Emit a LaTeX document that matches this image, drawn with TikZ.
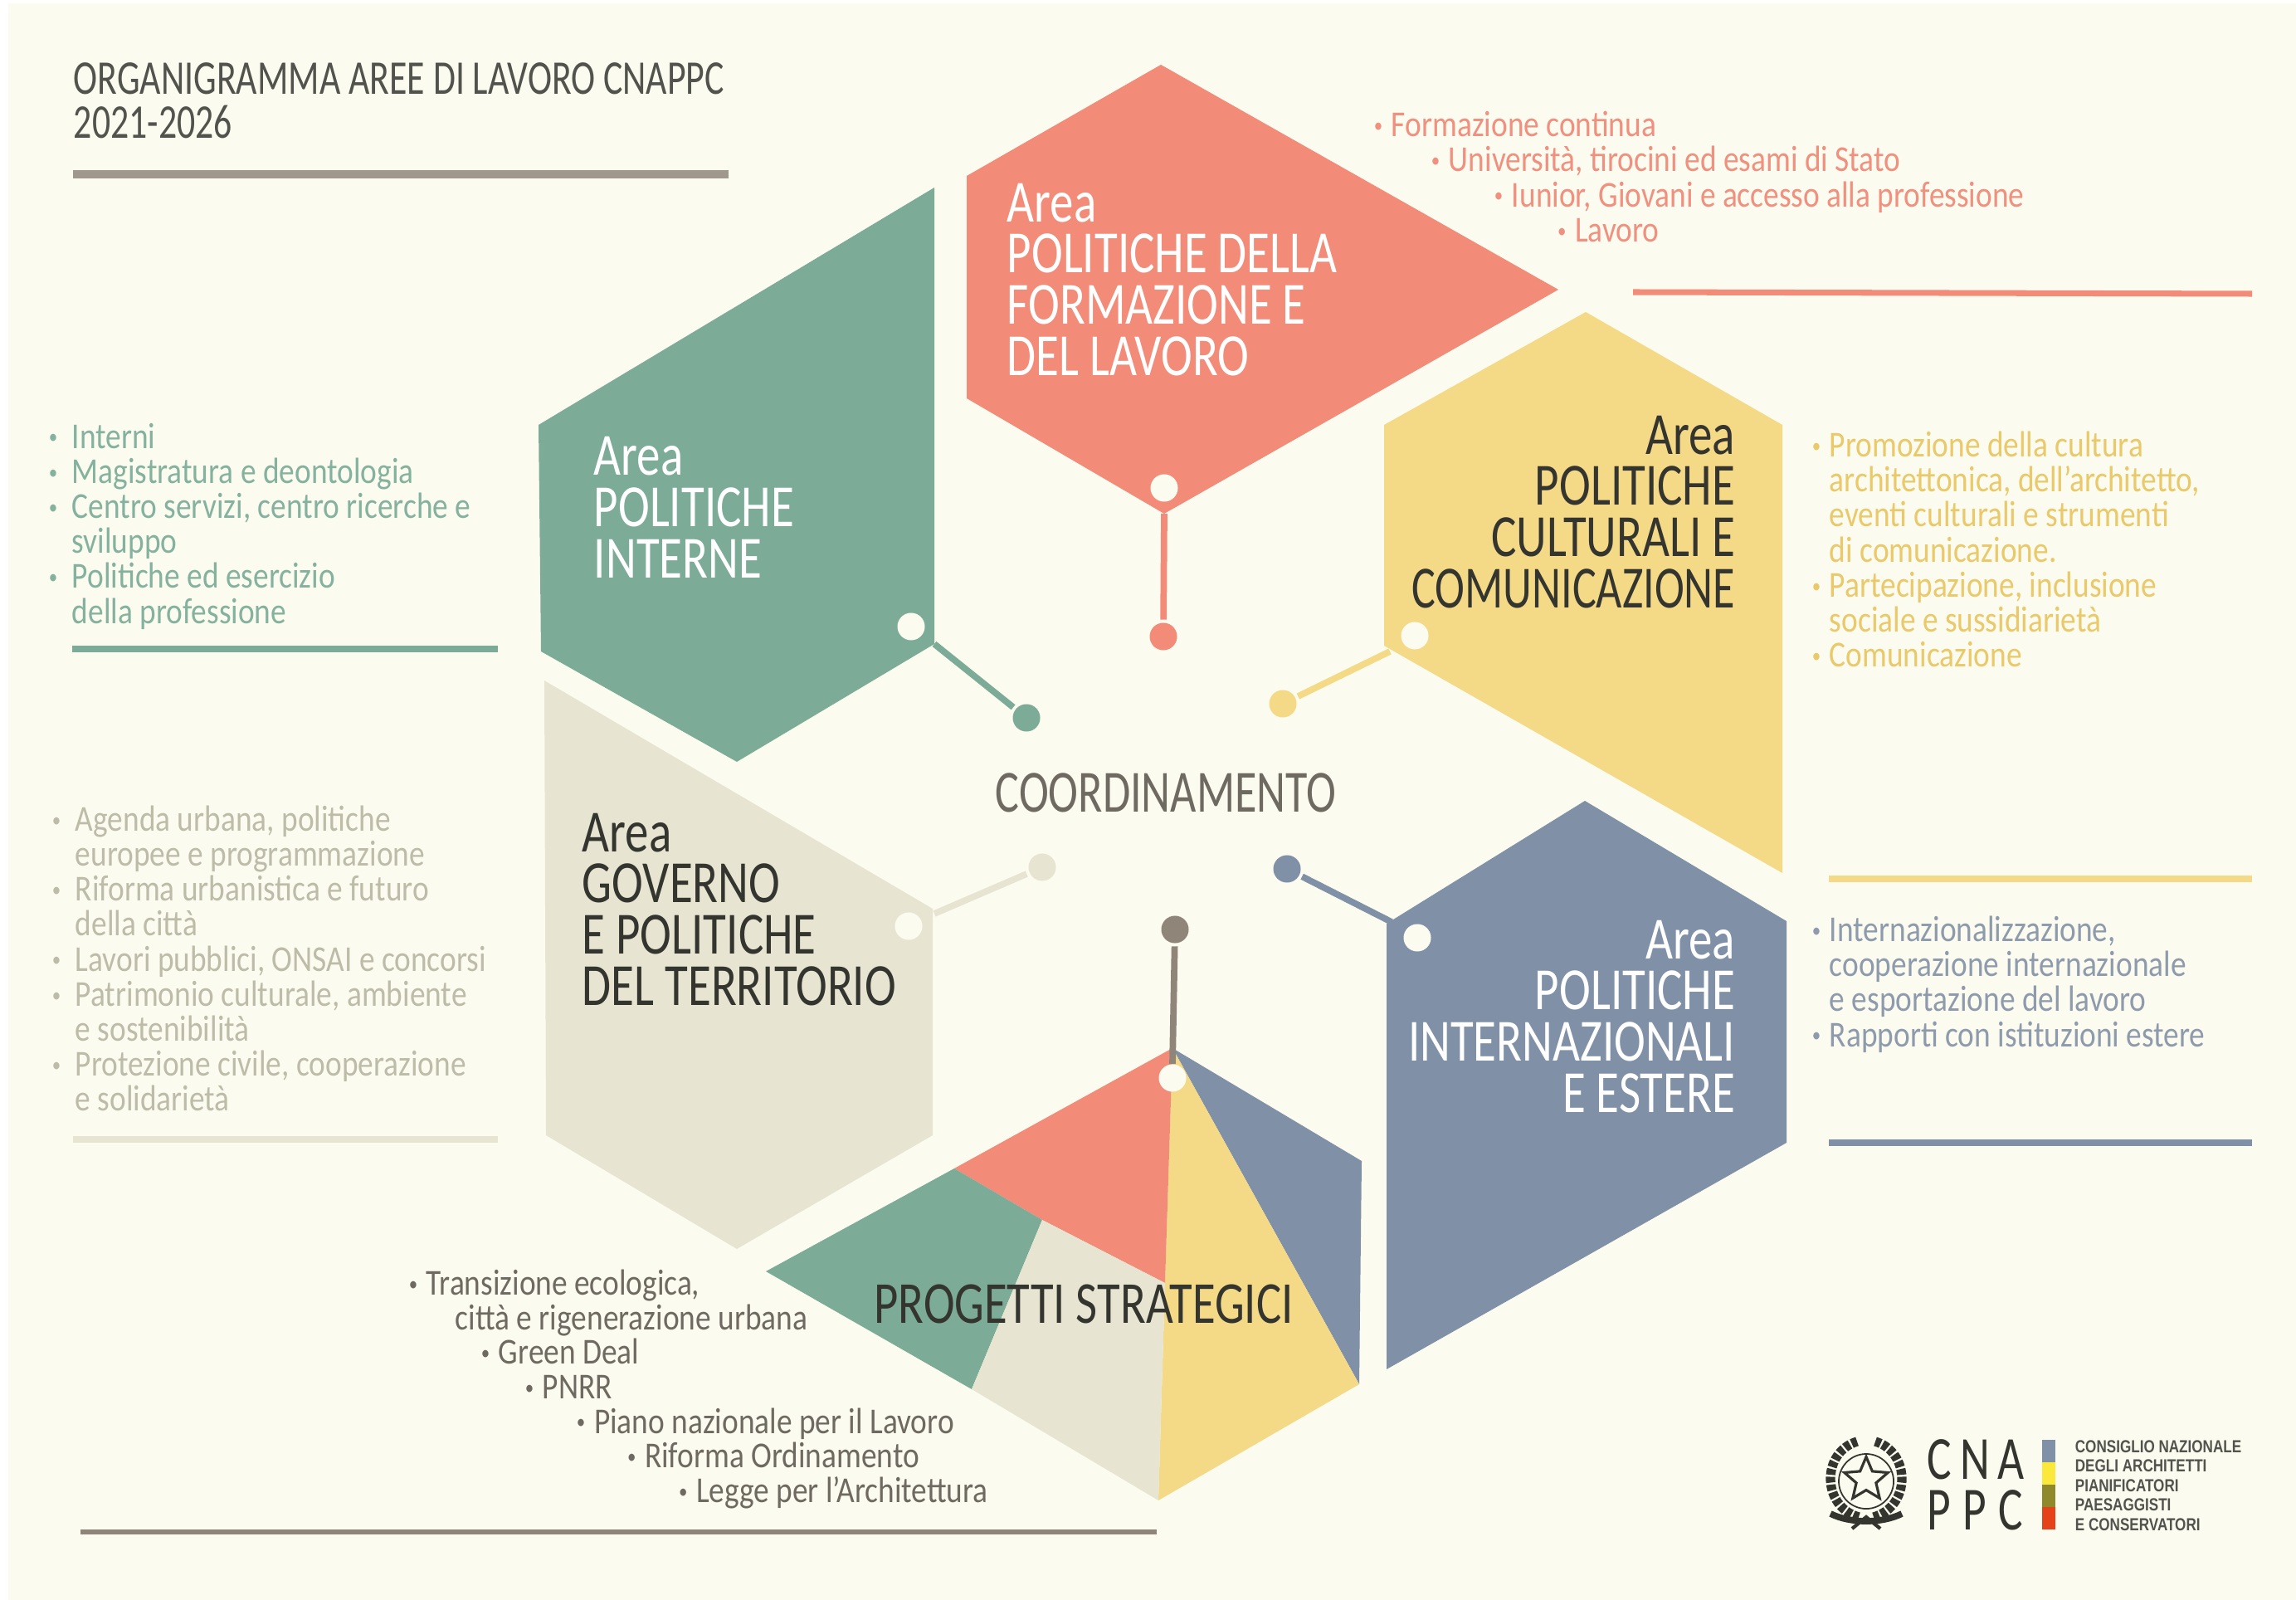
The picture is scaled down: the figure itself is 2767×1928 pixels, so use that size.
\documentclass[tikz,border=0pt]{standalone}
\usepackage{fontspec}
\setmainfont[FakeStretch=0.85]{Carlito}
\newfontfamily\headf[FakeStretch=0.79]{Carlito}
\newfontfamily\condf[FakeStretch=0.75]{Carlito}
\newfontfamily\logof[FakeStretch=0.81]{Liberation Sans}
\usetikzlibrary{shapes.geometric}
\definecolor{paper}{HTML}{FCFBEF}
\definecolor{redc}{HTML}{F28B78}
\definecolor{greenc}{HTML}{7CAB97}
\definecolor{yellowc}{HTML}{F4D987}
\definecolor{beigec}{HTML}{E7E5D2}
\definecolor{bluec}{HTML}{7F90A7}
\definecolor{brownc}{HTML}{8F8579}
\definecolor{redt}{HTML}{F0907F}
\definecolor{greent}{HTML}{84B29E}
\definecolor{yellowt}{HTML}{E9C96A}
\definecolor{beiget}{HTML}{BDBCA9}
\definecolor{bluet}{HTML}{8D9BAC}
\definecolor{darkt}{HTML}{6E6A62}
\definecolor{inkt}{HTML}{35352F}
\def\bul{\raisebox{1.5pt}{\scriptsize •}}
\def\itm{\makebox[0.28cm][l]{\bul}}
\def\ind{\hspace*{0.28cm}}
\def\its{\makebox[0.21cm][l]{\bul}}
\def\ins{\hspace*{0.21cm}}

\begin{document}
\begin{tikzpicture}[x=0.01cm,y=-0.01cm,line width=2.2pt]
    \tikzstyle{every node}=[inner sep=0pt]
    \tikzstyle{dot}=[circle,minimum size=0.33cm]
    \tikzstyle{hole}=[dot,fill=paper]
    \tikzstyle{area}=[align=left,font=\headf\fontsize{20.5}{17.6}\selectfont]
    \tikzstyle{areaR}=[area,align=right]
    \tikzstyle{list}=[align=left,anchor=west,font=\fontsize{12.5}{12}\selectfont]
    \tikzstyle{logotext}=[align=left,font=\logof\fontsize{6}{6.65}\selectfont\bfseries,text=inkt!85]

    \fill[white] (0,0) rectangle (2767,1928);
    \fill[paper] (10,4) rectangle (2767,1928);

    % Draw the five area hexagons
    \fill[redc] (1399,78) -- (1878,349) -- (1403,619) -- (1165,480) -- (1165,212) -- cycle;
    \fill[greenc] (1126,226) -- (649,512) -- (652,785) -- (888,918) -- (1126,776) -- cycle;
    \fill[yellowc] (1911,376) -- (2148,512) -- (2148,1052) -- (1668,778) -- (1668,512) -- cycle;
    \fill[bluec] (1910,965) -- (2153,1110) -- (2153,1377) -- (1671,1650) -- (1671,1113) -- cycle;
    \fill[beigec] (656,820) -- (1124,1095) -- (1124,1368) -- (888,1505) -- (658,1368) -- cycle;

    % Draw the bottom hexagon, one slice per colour
    \fill[bluec] (1413,1263) -- (1641,1399) -- (1638,1668) -- cycle;
    \fill[yellowc] (1413,1263) -- (1638,1668) -- (1396,1808) -- (1404,1546) -- cycle;
    \fill[redc] (1413,1263) -- (1404,1546) -- (1256,1470) -- (1150,1408) -- cycle;
    \fill[greenc] (1150,1408) -- (1256,1470) -- (1171,1674) -- (923,1532) -- cycle;
    \fill[beigec] (1256,1470) -- (1404,1546) -- (1396,1808) -- (1171,1674) -- cycle;

    % Draw the stems, each from a hexagon corner to its dot
    \foreach \name/\col/\ax/\ay/\hx/\hy/\dx/\dy in
        {red/redc/1403/619/1403/588/1402/767,
         green/greenc/1126/776/1098/755/1237/865,
         yellow/yellowc/1675/785/1705/766/1546/848,
         beige/beigec/1126/1101/1095/1116/1256/1045,
         blue/bluec/1677/1111/1708/1130/1551/1047,
         brown/brownc/1413/1282/1413/1299/1416/1120}
    {
        \coordinate (A-\name) at (\ax,\ay);
        \node[hole] (H-\name) at (\hx,\hy) {};
        \node[dot,fill=\col] (D-\name) at (\dx,\dy) {};
        \draw[\col] (A-\name) -- (D-\name);
    }

    % Draw the rules
    \foreach \name/\col/\lw/\ax/\ay/\bx/\by in
        {title/brownc!85/2.8/88/210/878/210,
         red/redc/2/1968/352/2714/354,
         green/greenc/2/87/782/600/782,
         yellow/yellowc/2/2204/1059/2714/1059,
         beige/beigec/2/88/1373/600/1373,
         blue/bluec/2/2204/1377/2714/1377,
         bottom/brownc/1.5/97/1846/1394/1846}
    {
        \coordinate (R-\name-a) at (\ax,\ay);
        \coordinate (R-\name-b) at (\bx,\by);
        \draw[\col,line width=\lw pt] (R-\name-a) -- (R-\name-b);
    }

    % Title and area names
    \node[align=left,anchor=west,text=inkt!85,font=\condf\fontsize{16.6}{15.1}\selectfont] (title) at (85,121)
        {ORGANIGRAMMA AREE DI LAVORO CNAPPC\\2021-2026};
    \node[area,anchor=west,text=white] (n-red) at (1210,337)
        {Area\\POLITICHE DELLA\\FORMAZIONE E\\DEL LAVORO};
    \node[area,anchor=west,text=white] (n-green) at (712,611)
        {Area\\POLITICHE\\INTERNE};
    \node[areaR,anchor=east,text=inkt] (n-yellow) at (2095,617)
        {Area\\POLITICHE\\CULTURALI E\\{\condf COMUNICAZIONE}};
    \node[area,anchor=west,text=inkt] (n-beige) at (698,1096)
        {Area\\GOVERNO\\E POLITICHE\\DEL TERRITORIO};
    \node[areaR,anchor=east,text=white] (n-blue) at (2095,1225)
        {Area\\POLITICHE\\INTERNAZIONALI\\E ESTERE};
    \node[text=inkt,font=\headf\fontsize{20.4}{20}\selectfont] (n-bottom) at (1306,1571) {PROGETTI STRATEGICI};
    \node[text=darkt,font=\condf\fontsize{20.5}{20}\selectfont] (n-coord) at (1405,955) {COORDINAMENTO};

    % Lists
    \node[list,text=redt] (l-red) at (1652,213)
        {\its Formazione continua\\
         \hspace*{0.69cm}\its Università, tirocini ed esami di Stato\\
         \hspace*{1.45cm}\its Iunior, Giovani e accesso alla professione\\
         \hspace*{2.21cm}\its Lavoro};
    \node[list,text=greent] (l-green) at (55,634)
        {\itm Interni\\\itm Magistratura e deontologia\\
         \itm Centro servizi, centro ricerche e\\\ind sviluppo\\
         \itm Politiche ed esercizio\\\ind della professione};
    \node[list,text=yellowt] (l-yellow) at (2180,662)
        {\its Promozione della cultura\\\ins architettonica, dell'architetto,\\
         \ins eventi culturali e strumenti\\\ins di comunicazione.\\
         \its Partecipazione, inclusione\\\ins sociale e sussidiarietà\\
         \its Comunicazione};
    \node[list,text=bluet] (l-blue) at (2180,1186)
        {\its Internazionalizzazione,\\\ins cooperazione internazionale\\
         \ins e esportazione del lavoro\\\its Rapporti con istituzioni estere};
    \node[list,text=beiget] (l-beige) at (59,1155)
        {\itm Agenda urbana, politiche\\\ind europee e programmazione\\
         \itm Riforma urbanistica e futuro\\\ind della città\\
         \itm Lavori pubblici, ONSAI e concorsi\\
         \itm Patrimonio culturale, ambiente\\\ind e sostenibilità\\
         \itm Protezione civile, cooperazione\\\ind e solidarietà};
    \node[list,text=darkt,font=\fontsize{12.5}{11.85}\selectfont] (l-bottom) at (489,1674)
        {\its Transizione ecologica,\\
         \hspace*{0.56cm}città e rigenerazione urbana\\
         \hspace*{0.87cm}\its Green Deal\\
         \hspace*{1.40cm}\its PNRR\\
         \hspace*{2.02cm}\its Piano nazionale per il Lavoro\\
         \hspace*{2.63cm}\its Riforma Ordinamento\\
         \hspace*{3.25cm}\its Legge per l'Architettura};

    % Logo: emblem, letters, colour bar, name
    \node[draw=inkt,star,star points=5,star point ratio=2.2,minimum size=0.55cm,line width=0.9pt] (e-star) at (2249,1783) {};
    \node[draw=inkt,circle,minimum size=0.66cm,line width=0.5pt] (e-gear) at (2249,1785) {};
    \draw[inkt,line width=3.2pt,dash pattern=on 2pt off 0.7pt] (2240,1828) .. controls (2195,1815) and (2195,1750) .. (2238,1737);
    \draw[inkt,line width=3.2pt,dash pattern=on 2pt off 0.7pt] (2258,1828) .. controls (2303,1815) and (2303,1750) .. (2260,1737);
    \draw[inkt,line width=2.2pt] (2206,1824) .. controls (2230,1836) and (2268,1836) .. (2292,1824);
    \draw[inkt,line width=1.2pt] (2232,1842) -- (2249,1828) -- (2266,1842);
    \foreach \name/\lett/\px/\py in {c1/C/2337/1759,n1/N/2380/1759,a1/A/2423/1759,p1/P/2337/1820,p2/P/2380/1820,c2/C/2423/1820}
        \node[text=inkt,font=\condf\fontsize{21}{21}\selectfont] (L-\name) at (\px,\py) {\lett};
    \foreach \name/\col/\py in {a/bluec/1735,b/yellow!60!yellowc/1762,c/olive!70!gray/1789,d/red!60!orange!80!gray/1816}
        \fill[\col] (2461,\py) rectangle (2477,\py+27);
    \node[logotext,anchor=west] (logo) at (2497,1790)
        {CONSIGLIO NAZIONALE\\DEGLI ARCHITETTI\\PIANIFICATORI\\PAESAGGISTI\\E CONSERVATORI};
\end{tikzpicture}
\end{document}
